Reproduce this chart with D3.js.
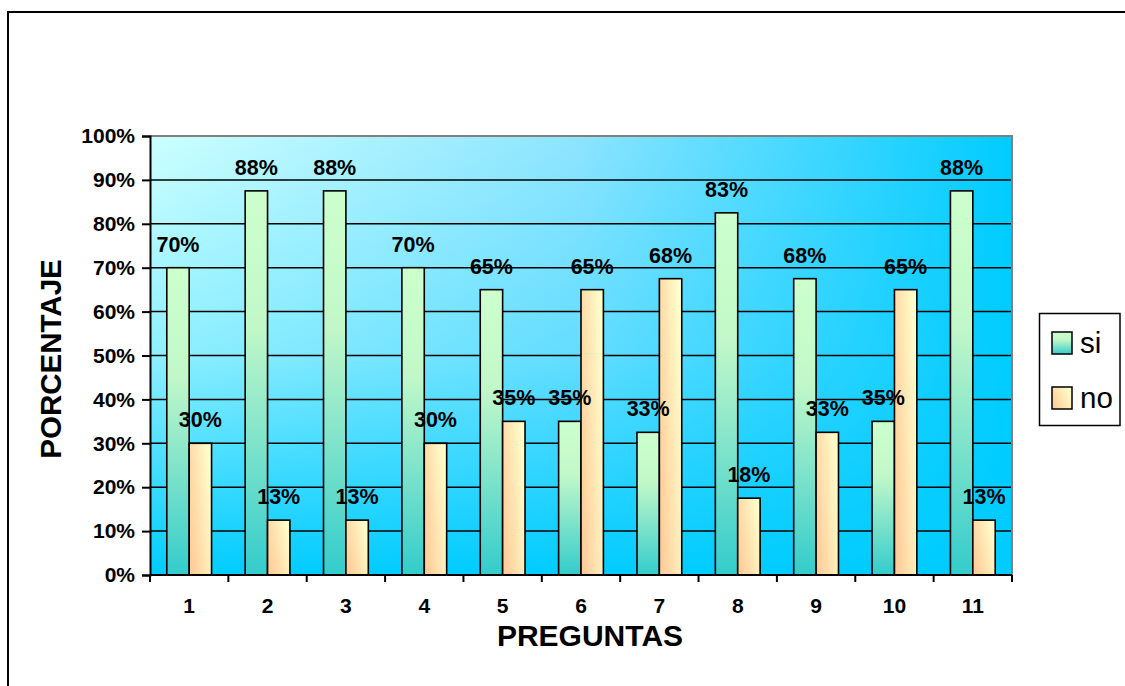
<!DOCTYPE html>
<html>
<head>
<meta charset="utf-8">
<script src="https://cdn.jsdelivr.net/npm/d3@7"></script>
<style>
  html, body { margin: 0; padding: 0; background: #fff; }
  svg { display: block; }
  text { font-family: Arial, "Liberation Sans", sans-serif; fill: #000; }
</style>
</head>
<body>
<script>
// ---- data ----
const categories = ["1","2","3","4","5","6","7","8","9","10","11"];
const seriesNames = ["si","no"];
const siValues = [70, 87.5, 87.5, 70, 65, 35, 32.5, 82.5, 67.5, 35, 87.5];
const noValues = [30, 12.5, 12.5, 30, 35, 65, 67.5, 17.5, 32.5, 65, 12.5];
const yTicks = [0,10,20,30,40,50,60,70,80,90,100];
const xTitle = "PREGUNTAS";
const yTitle = "PORCENTAJE";

const W = 1125, H = 686;
const plot = {left: 150, right: 1012, top: 136, bottom: 575};

const svg = d3.select("body").append("svg").attr("width", W).attr("height", H);
const defs = svg.append("defs");

// gradients
const bgH = defs.append("linearGradient").attr("id","bgH").attr("x1",0).attr("y1",0).attr("x2",1).attr("y2",0);
bgH.append("stop").attr("offset","0%").attr("stop-color","#ccffff");
bgH.append("stop").attr("offset","50%").attr("stop-color","#8ce4ff");
bgH.append("stop").attr("offset","100%").attr("stop-color","#00ccff");
const bgV = defs.append("linearGradient").attr("id","bgV").attr("x1",0).attr("y1",0).attr("x2",0).attr("y2",1);
bgV.append("stop").attr("offset","0%").attr("stop-color","#00ccff").attr("stop-opacity",0);
bgV.append("stop").attr("offset","50%").attr("stop-color","#00ccff").attr("stop-opacity",0.3);
bgV.append("stop").attr("offset","100%").attr("stop-color","#00ccff").attr("stop-opacity",1);

const gSi = defs.append("linearGradient").attr("id","gSi").attr("x1",0).attr("y1",0).attr("x2",0).attr("y2",1);
gSi.append("stop").attr("offset","0%").attr("stop-color","#ccffcc");
gSi.append("stop").attr("offset","35%").attr("stop-color","#c2f8c9");
gSi.append("stop").attr("offset","100%").attr("stop-color","#33cccc");
const gNo = defs.append("linearGradient").attr("id","gNo").attr("x1",0).attr("y1",0.75).attr("x2",1).attr("y2",0.25);
gNo.append("stop").attr("offset","0%").attr("stop-color","#ffcc99");
gNo.append("stop").attr("offset","100%").attr("stop-color","#ffffcc");
const fills = {si: "url(#gSi)", no: "url(#gNo)"};

// outer frame
svg.append("path").attr("d", `M8,${H} V12 H${W}`).attr("fill","none").attr("stroke","#000").attr("stroke-width",2);

// scales
const x0 = d3.scaleBand().domain(categories).range([plot.left, plot.right]).padding(0);
const x1 = d3.scaleBand().domain(seriesNames).range([0, x0.bandwidth()]).paddingInner(0).paddingOuter(0.75);
const y = d3.scaleLinear().domain([0,100]).range([plot.bottom, plot.top]);

// plot background
svg.append("rect").attr("x",plot.left).attr("y",plot.top).attr("width",plot.right-plot.left).attr("height",plot.bottom-plot.top).attr("fill","url(#bgH)");
svg.append("rect").attr("x",plot.left).attr("y",plot.top).attr("width",plot.right-plot.left).attr("height",plot.bottom-plot.top).attr("fill","url(#bgV)");

// gridlines
svg.append("g").selectAll("line").data(yTicks.filter(t => t > 0 && t < 100)).join("line")
  .attr("x1",plot.left).attr("x2",plot.right).attr("y1",d=>y(d)).attr("y2",d=>y(d))
  .attr("stroke","#000").attr("stroke-width",1.5);

// plot border (top, right) gray
svg.append("path").attr("d",`M${plot.left},${plot.top} H${plot.right} V${plot.bottom}`)
  .attr("fill","none").attr("stroke","#808080").attr("stroke-width",2);

// bars
const rows = categories.map((c,i) => ({cat:c, vals:[{s:"si",v:siValues[i]},{s:"no",v:noValues[i]}]}));
const groups = svg.append("g").selectAll("g").data(rows).join("g")
  .attr("transform", d => `translate(${x0(d.cat)},0)`);
groups.selectAll("rect").data(d => d.vals).join("rect")
  .attr("x", d => x1(d.s)).attr("width", x1.bandwidth())
  .attr("y", d => y(d.v)).attr("height", d => y(0) - y(d.v))
  .attr("fill", d => fills[d.s]).attr("stroke","#000").attr("stroke-width",1.6);

// labels
groups.selectAll("text").data(d => d.vals).join("text")
  .attr("x", d => x1(d.s) + x1.bandwidth()/2)
  .attr("y", d => y(d.v) - 16)
  .attr("text-anchor","middle").attr("font-weight","bold").attr("font-size",21.5)
  .text(d => Math.round(d.v) + "%");

// y axis
const yAxis = d3.axisLeft(y).tickValues(yTicks).tickFormat(d => d + "%").tickSize(8).tickPadding(7);
const gy = svg.append("g").attr("transform",`translate(${plot.left},0)`).call(yAxis);
gy.select(".domain").attr("stroke","#000").attr("stroke-width",2);
gy.selectAll(".tick line").attr("stroke","#000").attr("stroke-width",2);
gy.selectAll(".tick text").attr("font-family","Arial, 'Liberation Sans', sans-serif").attr("font-size",21).attr("font-weight","bold").attr("fill","#000");

// x axis: tick marks at category boundaries, labels centered
const gx = svg.append("g");
gx.append("line").attr("x1",plot.left).attr("x2",plot.right).attr("y1",plot.bottom).attr("y2",plot.bottom).attr("stroke","#000").attr("stroke-width",2);
const bounds = categories.map(c => x0(c)).concat([plot.right]);
gx.selectAll("line.tk").data(bounds).join("line").attr("class","tk")
  .attr("x1",d=>d).attr("x2",d=>d).attr("y1",plot.bottom).attr("y2",plot.bottom+7)
  .attr("stroke","#000").attr("stroke-width",2);
gx.selectAll("text").data(categories).join("text")
  .attr("x", d => x0(d) + x0.bandwidth()/2).attr("y", 613)
  .attr("text-anchor","middle").attr("font-weight","bold").attr("font-size",21)
  .text(d => d);

// titles
svg.append("text").attr("x",590).attr("y",646).attr("text-anchor","middle")
  .attr("font-weight","bold").attr("font-size",30).text(xTitle);
svg.append("text").attr("transform","translate(61,359) rotate(-90)").attr("text-anchor","middle")
  .attr("font-weight","bold").attr("font-size",29.5).text(yTitle);

// legend
const lg = svg.append("g");
lg.append("rect").attr("x",1039.5).attr("y",313.5).attr("width",80.5).attr("height",112)
  .attr("fill","#fff").attr("stroke","#000").attr("stroke-width",1.5);
const lgItems = lg.selectAll("g").data(seriesNames).join("g")
  .attr("transform",(d,i)=>`translate(1052,${332 + i*55})`);
lgItems.append("rect").attr("width",20).attr("height",22).attr("fill",d=>fills[d]).attr("stroke","#000").attr("stroke-width",1.5);
lgItems.append("text").attr("x",28).attr("y",21).attr("font-size",29.5).text(d=>d);
</script>
</body>
</html>
